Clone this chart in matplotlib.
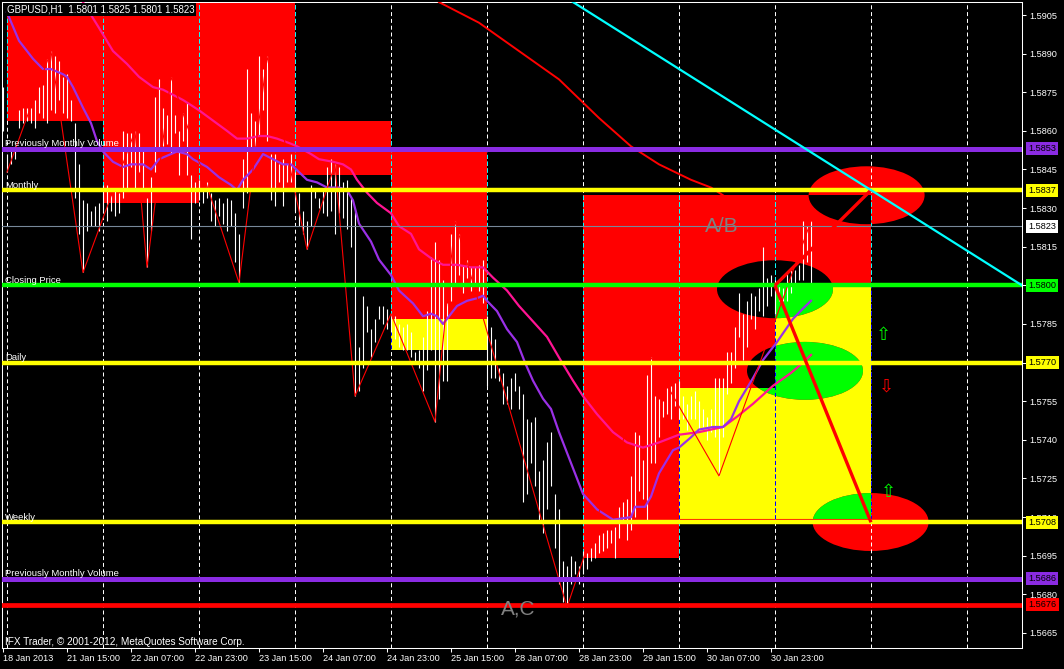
import matplotlib
matplotlib.use("Agg")
import matplotlib.pyplot as plt
from matplotlib.patches import Rectangle, Ellipse
from matplotlib.transforms import blended_transform_factory

plt.rcParams['font.family'] = ['Liberation Sans', 'DejaVu Sans']

# ---------------- data ----------------
title_text = "GBPUSD,H1  1.5801 1.5825 1.5801 1.5823"

bar_high = [
    1.5877, 1.5851, 1.5853, 1.5854, 1.5868, 1.5869, 1.5869, 1.5869, 1.5872, 1.5877,
    1.5878, 1.5888, 1.5891, 1.5889, 1.5887, 1.5881, 1.5882, 1.5872, 1.5863, 1.5847,
    1.5833, 1.5832, 1.5829, 1.5831, 1.5832, 1.5839, 1.5839, 1.5835, 1.5838, 1.5836,
    1.5860, 1.5859, 1.5859, 1.5860, 1.5859, 1.5853, 1.5834, 1.5842, 1.5873, 1.5880,
    1.5869, 1.5866, 1.5881, 1.5866, 1.5860, 1.5867, 1.5871, 1.5843, 1.5840, 1.5841,
    1.5838, 1.5840, 1.5836, 1.5833, 1.5834, 1.5832, 1.5834, 1.5833, 1.5828, 1.5820,
    1.5849, 1.5884, 1.5867, 1.5864, 1.5889, 1.5884, 1.5889, 1.5851, 1.5851, 1.5847,
    1.5849, 1.5847, 1.5851, 1.5844, 1.5836, 1.5829, 1.5825, 1.5839, 1.5838, 1.5834,
    1.5838, 1.5846, 1.5849, 1.5847, 1.5846, 1.5840, 1.5841, 1.5834, 1.5829, 1.5776,
    1.5796, 1.5792, 1.5783, 1.5787, 1.5792, 1.5792, 1.5791, 1.5789, 1.5788, 1.5785,
    1.5784, 1.5785, 1.5782, 1.5774, 1.5775, 1.5780, 1.5790, 1.5811, 1.5817, 1.5810,
    1.5802, 1.5793, 1.5820, 1.5825, 1.5820, 1.5808, 1.5810, 1.5807, 1.5807, 1.5808,
    1.5810, 1.5788, 1.5784, 1.5779, 1.5768, 1.5766, 1.5761, 1.5764, 1.5766, 1.5761,
    1.5758, 1.5748, 1.5747, 1.5749, 1.5728, 1.5732, 1.5739, 1.5743, 1.5719, 1.5713,
    1.5693, 1.5691, 1.5695, 1.5693, 1.5691, 1.5697, 1.5696, 1.5698, 1.5700, 1.5703,
    1.5704, 1.5705, 1.5705, 1.5706, 1.5714, 1.5716, 1.5717, 1.5726, 1.5743, 1.5742,
    1.5732, 1.5765, 1.5772, 1.5757, 1.5756, 1.5755, 1.5760, 1.5761, 1.5762, 1.5763,
    1.5757, 1.5754, 1.5757, 1.5759, 1.5755, 1.5752, 1.5749, 1.5752, 1.5764, 1.5764,
    1.5764, 1.5774, 1.5774, 1.5784, 1.5797, 1.5789, 1.5794, 1.5797, 1.5796, 1.5799,
    1.5815, 1.5803, 1.5804, 1.5802, 1.5801, 1.5799, 1.5805, 1.5806, 1.5806, 1.5808,
    1.5825, 1.5823, 1.5825]
bar_low = [
    1.5860, 1.5844, 1.5847, 1.5849, 1.5861, 1.5863, 1.5864, 1.5863, 1.5861, 1.5867,
    1.5865, 1.5863, 1.5868, 1.5867, 1.5872, 1.5867, 1.5865, 1.5864, 1.5834, 1.5820,
    1.5805, 1.5821, 1.5823, 1.5823, 1.5821, 1.5828, 1.5825, 1.5829, 1.5827, 1.5828,
    1.5834, 1.5838, 1.5846, 1.5838, 1.5844, 1.5838, 1.5807, 1.5821, 1.5844, 1.5852,
    1.5854, 1.5855, 1.5851, 1.5859, 1.5843, 1.5856, 1.5843, 1.5818, 1.5832, 1.5833,
    1.5832, 1.5834, 1.5825, 1.5823, 1.5827, 1.5824, 1.5821, 1.5823, 1.5809, 1.5801,
    1.5830, 1.5836, 1.5853, 1.5854, 1.5858, 1.5868, 1.5856, 1.5833, 1.5831, 1.5840,
    1.5831, 1.5840, 1.5840, 1.5829, 1.5823, 1.5820, 1.5814, 1.5823, 1.5834, 1.5830,
    1.5828, 1.5827, 1.5829, 1.5820, 1.5828, 1.5826, 1.5822, 1.5815, 1.5757, 1.5759,
    1.5768, 1.5782, 1.5772, 1.5778, 1.5787, 1.5785, 1.5783, 1.5782, 1.5779, 1.5776,
    1.5775, 1.5775, 1.5772, 1.5770, 1.5768, 1.5759, 1.5767, 1.5775, 1.5747, 1.5756,
    1.5763, 1.5763, 1.5794, 1.5801, 1.5804, 1.5797, 1.5803, 1.5798, 1.5801, 1.5798,
    1.5793, 1.5761, 1.5764, 1.5764, 1.5763, 1.5754, 1.5754, 1.5752, 1.5759, 1.5752,
    1.5716, 1.5719, 1.5731, 1.5722, 1.5709, 1.5704, 1.5713, 1.5722, 1.5698, 1.5684,
    1.5677, 1.5675, 1.5684, 1.5688, 1.5684, 1.5688, 1.5690, 1.5693, 1.5694, 1.5696,
    1.5697, 1.5698, 1.5700, 1.5694, 1.5702, 1.5708, 1.5701, 1.5705, 1.5710, 1.5720,
    1.5717, 1.5709, 1.5731, 1.5731, 1.5741, 1.5749, 1.5750, 1.5748, 1.5753, 1.5748,
    1.5748, 1.5744, 1.5748, 1.5748, 1.5743, 1.5745, 1.5740, 1.5743, 1.5741, 1.5726,
    1.5741, 1.5758, 1.5762, 1.5768, 1.5780, 1.5771, 1.5776, 1.5787, 1.5783, 1.5790,
    1.5788, 1.5792, 1.5796, 1.5789, 1.5794, 1.5794, 1.5794, 1.5797, 1.5800, 1.5802,
    1.5802, 1.5809, 1.5801]
bar_idx = list(range(len(bar_high)))

# moving averages (bar index, price) sampled along the curves
ma_fast_idx = [1, 4, 7.5, 10, 12, 15, 16, 17.5, 20, 22, 23.5, 25, 27.5, 30, 32, 35, 37, 39, 42, 43.5,
               46, 47.5, 51, 54, 57, 58.5, 60, 62.5, 65, 67.5, 70, 72, 74, 76, 78.5, 81, 84, 86, 87.5, 89,
               92, 94, 97, 99, 102.5, 105, 107, 108.5, 110, 112, 113.5, 116, 118.5, 120, 121, 123.5, 126,
               128.5, 130.5, 132.5, 135, 137, 139, 142, 145, 148.5, 152.5, 157, 158, 160.5, 162, 164,
               167.5, 169, 172, 174, 177.5, 180, 182, 184, 187.5, 190, 193.5, 197.5, 200, 202]
ma_fast = [1.5906, 1.5895, 1.5888, 1.5884, 1.5884, 1.5882, 1.5881, 1.5877, 1.5869, 1.5863,
           1.5856, 1.5852, 1.5848, 1.5846, 1.5847, 1.5847, 1.5845, 1.5849, 1.5851, 1.5852,
           1.5851, 1.5849, 1.5846, 1.5842, 1.5839, 1.5837, 1.5841, 1.5845, 1.5851, 1.5849,
           1.5847, 1.5847, 1.5844, 1.5841, 1.5840, 1.5838, 1.5838, 1.5837, 1.5833, 1.5824,
           1.5817, 1.5810, 1.5804, 1.5798, 1.5793, 1.5788, 1.5789, 1.5788, 1.5785, 1.5789,
           1.5792, 1.5794, 1.5795, 1.5796, 1.5794, 1.5790, 1.5783, 1.5778, 1.5770, 1.5763,
           1.5756, 1.5752, 1.5743, 1.5731, 1.5719, 1.5713, 1.5709, 1.5710, 1.5714, 1.5714,
           1.5718, 1.5727, 1.5736, 1.5737, 1.5741, 1.5744, 1.5745, 1.5745, 1.5748, 1.5755,
           1.5764, 1.5771, 1.5778, 1.5787, 1.5791, 1.5794]
ma_mid_idx = [20, 24, 27.5, 31, 34, 37.5, 40, 42.5, 45, 49, 52.5, 56, 58.5, 61, 64, 66, 68.5, 72,
              73.5, 77, 79, 82.5, 85, 87, 88.5, 91, 93.5, 97, 99, 102, 104, 107.5, 110, 113.5, 117,
              120, 122.5, 126, 129, 132.5, 136, 139, 142.5, 145, 148.5, 152.5, 156, 160, 164, 169,
              174, 180, 183.5, 187.5, 192.5, 197, 200, 202]
ma_mid = [1.5910, 1.5900, 1.5891, 1.5886, 1.5881, 1.5877, 1.5876, 1.5874, 1.5872, 1.5868,
          1.5864, 1.5860, 1.5857, 1.5857, 1.5858, 1.5858, 1.5857, 1.5855, 1.5854, 1.5851,
          1.5849, 1.5848, 1.5847, 1.5845, 1.5841, 1.5836, 1.5832, 1.5828, 1.5823, 1.5820,
          1.5814, 1.5810, 1.5808, 1.5808, 1.5807, 1.5807, 1.5803, 1.5798, 1.5792, 1.5786,
          1.5780, 1.5772, 1.5763, 1.5757, 1.5750, 1.5743, 1.5739, 1.5737, 1.5739, 1.5742,
          1.5743, 1.5745, 1.5749, 1.5754, 1.5761, 1.5766, 1.5770, 1.5773]
ma_slow_idx = [109, 119, 129, 139, 149, 157, 164, 172, 177, 181]
ma_slow = [1.5910, 1.5902, 1.5891, 1.5880, 1.5865, 1.5854, 1.5847, 1.5841, 1.5838, 1.5834]

zz_idx = [1, 12, 20, 33, 36, 42, 59, 66, 76, 83, 88, 97, 108, 113, 141, 162, 179, 202]
zz_price = [1.5844, 1.5891, 1.5805, 1.5860, 1.5807, 1.5881, 1.5801, 1.5889, 1.5814, 1.5847,
            1.5757, 1.5789, 1.5747, 1.5825, 1.5675, 1.5772, 1.5726, 1.5825]

# day boxes
box_start = [1, 25, 49, 73, 97, 97, 145, 169, 169, 193, 193]
box_end = [25, 49, 73, 97, 121, 121, 169, 193, 193, 217, 217]
box_top = [1.5915, 1.5915, 1.5915, 1.5864, 1.5853, 1.5787, 1.5835, 1.5835, 1.5760, 1.5835, 1.5800]
box_bottom = [1.5864, 1.5832, 1.5838, 1.5843, 1.5787, 1.5775, 1.5694, 1.5760, 1.5709, 1.5800, 1.5709]
box_kind = ['red', 'red', 'red', 'red', 'red', 'yellow', 'red', 'red', 'yellow', 'red', 'yellow']

# ellipse targets (centre bar, centre price)
ell_idx = [215.9, 193.0, 200.5, 216.9]
ell_price = [1.5835, 1.57985, 1.57668, 1.57081]

# horizontal levels
level_price = [1.5853, 1.5837, 1.5823, 1.5800, 1.5770, 1.5708, 1.5686, 1.5676]
level_name = ["Previously Monthly Volume", "Monthly", "", "Closing Price", "Daily", "Weekly",
              "Previously Monthly Volume", ""]

# pattern lines
ab_idx = [217, 193, 217]
ab_price = [1.5837, 1.5800, 1.5708]
trend_idx = [217, 254.75]
trend_price = [1.5837, 1.5800]

price_ticks = [1.5665, 1.5680, 1.5695, 1.5710, 1.5725, 1.5740, 1.5755, 1.5770, 1.5785,
               1.5800, 1.5815, 1.5830, 1.5845, 1.5860, 1.5875, 1.5890, 1.5905]
time_tick_idx = [0, 16, 32, 48, 64, 80, 96, 112, 128, 144, 160, 176, 192]
time_labels = ["18 Jan 2013", "21 Jan 15:00", "22 Jan 07:00", "22 Jan 23:00", "23 Jan 15:00",
               "24 Jan 07:00", "24 Jan 23:00", "25 Jan 15:00", "28 Jan 07:00", "28 Jan 23:00",
               "29 Jan 15:00", "30 Jan 07:00", "30 Jan 23:00"]
grid_idx = [1, 25, 49, 73, 97, 121, 145, 169, 193, 217, 241]

# ---------------- drawing ----------------
RED, YEL, GRN, CYAN = '#FF0000', '#FFFF00', '#00FF00', '#00FFFF'
PURPLE = '#8A2BE2'
level_color = [PURPLE, YEL, '#778899', GRN, YEL, YEL, PURPLE, RED]
level_width = [3.6, 3.2, 0.8, 3.2, 3.2, 3.2, 3.6, 3.4]

fig = plt.figure(figsize=(10.64, 6.69), dpi=100, facecolor='black')
ax = fig.add_axes([2 / 1064, 21 / 669, 1020 / 1064, 646 / 669])
ax.set_facecolor('black')
ax.set_xlim(-0.25, 254.75)
ax.set_ylim(1.565917, 1.591005)

red_boxes, yel_boxes = [], []
for s, e, t, b, k in zip(box_start, box_end, box_top, box_bottom, box_kind):
    ax.add_patch(Rectangle((s, b), e - s, t - b, facecolor=RED if k == 'red' else YEL,
                           edgecolor='none', zorder=1))
    (red_boxes if k == 'red' else yel_boxes).append((s, e, b, t))

# ellipses drawn in XOR style over the boxes
EW, EH = 29.0, 0.00225
for cx, cy in zip(ell_idx, ell_price):
    ax.add_patch(Ellipse((cx, cy), EW, EH, facecolor=RED, edgecolor='none', zorder=1.2))
    for (s, e, b, t) in red_boxes:
        el = Ellipse((cx, cy), EW, EH, facecolor='black', edgecolor='none', zorder=1.3)
        ax.add_patch(el)
        el.set_clip_path(Rectangle((s, b), e - s, t - b, transform=ax.transData))
    for (s, e, b, t) in yel_boxes:
        el = Ellipse((cx, cy), EW, EH, facecolor=GRN, edgecolor='none', zorder=1.4)
        ax.add_patch(el)
        el.set_clip_path(Rectangle((s, b), e - s, t - b, transform=ax.transData))

# thin red edge under the yellow boxes
ax.hlines(1.57093, 169, 217, color=RED, lw=0.8, zorder=1.5)

# vertical dashed grid (XOR colours over boxes)
dash = (0, (4, 2.8))
for g in grid_idx:
    ax.axvline(g, color='white', lw=0.72, ls=dash, zorder=2)
    for boxes, col, z in ((red_boxes, CYAN, 2.1), (yel_boxes, '#0000FF', 2.2)):
        for (s, e, b, t) in boxes:
            if s - 0.3 <= g <= e + 0.3:
                ln = ax.axvline(g, color=col, lw=0.72, ls=dash, zorder=z)
                ln.set_clip_path(Rectangle((s - 0.6, b), e - s + 1.2, t - b, transform=ax.transData))

# bars
ax.vlines(bar_idx, bar_low, bar_high, colors='white', lw=0.8, zorder=3)

# moving averages and zigzag
ax.plot(ma_slow_idx, ma_slow, color=RED, lw=1.4, zorder=4)
ax.plot(ma_mid_idx, ma_mid, color='#FF1493', lw=1.6, zorder=4)
ax.plot(ma_fast_idx, ma_fast, color='#9A30E6', lw=1.6, zorder=4.1)
ax.plot(zz_idx, zz_price, color=RED, lw=0.8, zorder=4.5)

# levels
trans_r = blended_transform_factory(ax.transAxes, ax.transData)
for p, c, w, name in zip(level_price, level_color, level_width, level_name):
    ax.axhline(p, color=c, lw=w, zorder=5)
    if name:
        ax.annotate(name, (0.5, p), xytext=(0, 1.8), textcoords='offset points', color='white',
                    fontsize=6.8, va='baseline', ha='left', zorder=7)
    box_c = 'white' if c == '#778899' else c
    ax.annotate(f'{p:.4f}', xy=(1, p), xycoords=trans_r, xytext=(4.6, 0),
                textcoords='offset points', ha='left', va='center', fontsize=6.6, color='black',
                bbox=dict(boxstyle='square,pad=0.22', fc=box_c, ec='none'),
                annotation_clip=False, zorder=8)

# pattern lines
ax.plot([ab_idx[1], ab_idx[0]], [ab_price[1], ab_price[0]], color=RED, lw=2.4, zorder=6,
        solid_capstyle='butt')
ax.plot([ab_idx[1], ab_idx[2]], [ab_price[1], ab_price[2]], color=RED, lw=2.4, zorder=6,
        solid_capstyle='butt')
ax.axline((trend_idx[0], trend_price[0]), (trend_idx[1], trend_price[1]), color=CYAN, lw=1.6,
          zorder=6)

# arrows
ax.text(220.0, 1.57807, '\u21e7', family='DejaVu Sans', color=GRN, fontsize=13,
        ha='center', va='center', zorder=7)
ax.text(220.75, 1.57609, '\u21e9', family='DejaVu Sans', color=RED, fontsize=13,
        ha='center', va='center', zorder=7)
ax.text(221.25, 1.57198, '\u21e7', family='DejaVu Sans', color=GRN, fontsize=13,
        ha='center', va='center', zorder=7)

# labels
ax.text(179.75, 1.5823, 'A/B', color='#808080', fontsize=15, ha='center', va='center', zorder=7)
ax.text(128.75, 1.56743, 'A,C', color='#808080', fontsize=15, ha='center', va='center', zorder=7)
ax.text(0.0049, 0.9955, title_text, transform=ax.transAxes, color='white', fontsize=7,
        ha='left', va='top', zorder=9,
        bbox=dict(boxstyle='square,pad=0.15', fc='black', ec='none'))
ax.text(0.003, 0.002, 'IFX Trader, \u00a9 2001-2012, MetaQuotes Software Corp.',
        transform=ax.transAxes, color='white', fontsize=7.2, ha='left', va='bottom', zorder=9)

# axes
ax.yaxis.tick_right()
ax.set_yticks(price_ticks)
ax.set_yticklabels([f'{v:.4f}' for v in price_ticks])
ax.set_xticks(time_tick_idx)
ax.set_xticklabels(time_labels, ha='left')
ax.tick_params(axis='y', colors='white', labelsize=6.6, length=3, width=0.75, pad=2)
ax.tick_params(axis='x', colors='white', labelsize=6.6, length=3, width=0.75, pad=1)
for sp in ax.spines.values():
    sp.set_color('white')
    sp.set_linewidth(0.75)

fig.savefig('out.png', dpi=100, facecolor='black')
